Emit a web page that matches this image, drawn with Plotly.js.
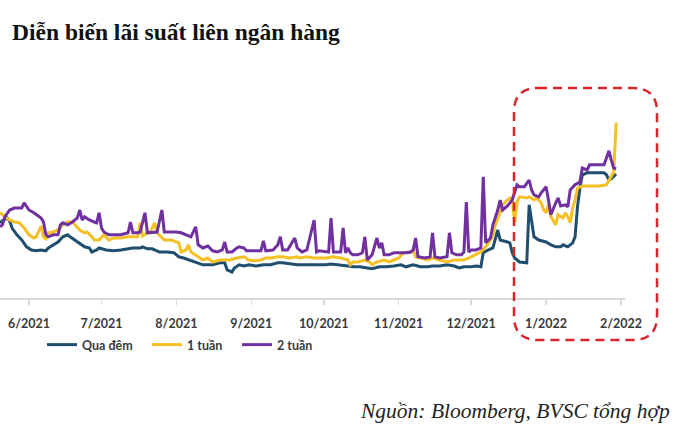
<!DOCTYPE html>
<html>
<head>
<meta charset="utf-8">
<script src="https://cdn.plot.ly/plotly-3.0.1.min.js"></script>
<style>html,body{margin:0;padding:0;background:#fff;}#chart{width:689px;height:443px;}</style>
</head>
<body>
<div id="chart"></div>
<script>
// ---- Data (% per year) ----
const seriesNames = ["Qua đêm", "1 tuần", "2 tuần"];

const overnightDates = ["2021-05-20","2021-05-21","2021-05-23","2021-05-24","2021-05-25","2021-05-27","2021-05-29","2021-05-31","2021-06-02","2021-06-04","2021-06-06","2021-06-08","2021-06-09","2021-06-11","2021-06-13","2021-06-15","2021-06-17","2021-06-18","2021-06-20","2021-06-22","2021-06-24","2021-06-26","2021-06-27","2021-06-29","2021-06-30","2021-07-03","2021-07-06","2021-07-09","2021-07-12","2021-07-14","2021-07-17","2021-07-18","2021-07-20","2021-07-22","2021-07-25","2021-07-28","2021-07-31","2021-08-02","2021-08-04","2021-08-07","2021-08-10","2021-08-12","2021-08-14","2021-08-16","2021-08-19","2021-08-21","2021-08-22","2021-08-24","2021-08-25","2021-08-27","2021-08-29","2021-08-31","2021-09-03","2021-09-06","2021-09-09","2021-09-12","2021-09-14","2021-09-17","2021-09-20","2021-09-23","2021-09-27","2021-10-02","2021-10-04","2021-10-08","2021-10-11","2021-10-13","2021-10-16","2021-10-19","2021-10-21","2021-10-24","2021-10-27","2021-10-30","2021-11-02","2021-11-04","2021-11-07","2021-11-10","2021-11-13","2021-11-15","2021-11-18","2021-11-21","2021-11-24","2021-11-26","2021-11-28","2021-12-01","2021-12-03","2021-12-05","2021-12-06","2021-12-08","2021-12-10","2021-12-12","2021-12-13","2021-12-16","2021-12-17","2021-12-18","2021-12-19","2021-12-21","2021-12-24","2021-12-25","2021-12-26","2021-12-27","2021-12-29","2022-01-01","2022-01-03","2022-01-05","2022-01-07","2022-01-08","2022-01-10","2022-01-12","2022-01-13","2022-01-14","2022-01-15","2022-01-16","2022-01-18","2022-01-21","2022-01-25","2022-01-26","2022-01-27","2022-01-28","2022-01-30"];
const overnightValues = [1.88,1.93,2.00,1.93,1.75,1.58,1.45,1.28,1.20,1.18,1.20,1.18,1.25,1.33,1.40,1.53,1.58,1.53,1.45,1.38,1.28,1.25,1.15,1.20,1.25,1.20,1.18,1.20,1.23,1.25,1.25,1.28,1.23,1.23,1.15,1.15,1.13,1.03,1.00,0.93,0.88,0.83,0.83,0.83,0.88,0.88,0.70,0.65,0.75,0.83,0.80,0.83,0.80,0.83,0.83,0.88,0.88,0.85,0.83,0.83,0.83,0.83,0.85,0.83,0.80,0.78,0.78,0.75,0.73,0.78,0.78,0.80,0.83,0.78,0.83,0.78,0.78,0.80,0.80,0.83,0.80,0.75,0.78,0.78,0.80,0.78,1.13,1.20,1.25,1.70,1.45,1.40,1.38,1.13,1.00,0.90,0.88,2.33,1.95,1.53,1.45,1.40,1.33,1.28,1.28,1.33,1.28,1.38,1.53,2.28,2.75,3.08,3.13,3.13,3.13,3.08,2.95,2.98,3.10];

const week1Dates = ["2021-05-20","2021-05-22","2021-05-24","2021-05-26","2021-05-28","2021-05-30","2021-06-01","2021-06-03","2021-06-04","2021-06-06","2021-06-07","2021-06-08","2021-06-09","2021-06-11","2021-06-13","2021-06-15","2021-06-17","2021-06-19","2021-06-21","2021-06-22","2021-06-24","2021-06-25","2021-06-27","2021-06-28","2021-06-30","2021-07-02","2021-07-04","2021-07-06","2021-07-09","2021-07-12","2021-07-16","2021-07-17","2021-07-18","2021-07-20","2021-07-21","2021-07-23","2021-07-24","2021-07-26","2021-07-27","2021-07-30","2021-08-02","2021-08-03","2021-08-05","2021-08-06","2021-08-07","2021-08-10","2021-08-12","2021-08-14","2021-08-16","2021-08-19","2021-08-23","2021-08-26","2021-08-29","2021-08-31","2021-09-02","2021-09-05","2021-09-07","2021-09-09","2021-09-12","2021-09-14","2021-09-17","2021-09-20","2021-09-21","2021-09-24","2021-09-27","2021-09-29","2021-10-02","2021-10-05","2021-10-08","2021-10-11","2021-10-12","2021-10-13","2021-10-15","2021-10-18","2021-10-20","2021-10-21","2021-10-23","2021-10-26","2021-10-28","2021-10-30","2021-11-01","2021-11-03","2021-11-06","2021-11-07","2021-11-08","2021-11-10","2021-11-13","2021-11-15","2021-11-18","2021-11-21","2021-11-24","2021-11-26","2021-11-28","2021-12-01","2021-12-03","2021-12-05","2021-12-07","2021-12-09","2021-12-10","2021-12-11","2021-12-13","2021-12-14","2021-12-16","2021-12-17","2021-12-18","2021-12-19","2021-12-20","2021-12-21","2021-12-24","2021-12-25","2021-12-27","2021-12-28","2021-12-30","2021-12-31","2022-01-01","2022-01-02","2022-01-03","2022-01-05","2022-01-06","2022-01-08","2022-01-09","2022-01-10","2022-01-11","2022-01-12","2022-01-13","2022-01-14","2022-01-16","2022-01-19","2022-01-23","2022-01-26","2022-01-27","2022-01-29","2022-01-30"];
const week1Values = [2.13,2.03,1.95,1.90,1.88,1.75,1.58,1.50,1.53,1.80,1.53,1.48,1.63,1.65,1.70,1.83,1.90,1.90,1.78,1.70,1.63,1.65,1.53,1.45,1.45,1.58,1.45,1.50,1.50,1.53,1.53,1.88,1.55,1.63,1.63,1.88,1.63,1.50,1.45,1.45,1.38,1.15,1.20,1.33,1.15,1.03,0.95,1.00,0.90,0.95,0.95,1.00,1.03,0.95,0.93,0.95,1.00,1.00,1.03,1.03,1.00,1.03,1.00,1.03,1.00,1.00,1.00,1.03,1.00,0.95,0.83,0.90,0.90,0.95,0.90,0.83,0.90,0.95,0.90,0.95,1.00,1.13,1.15,1.20,1.03,1.00,0.95,1.00,0.95,0.90,0.95,0.95,0.95,1.03,1.08,1.15,1.28,1.45,1.58,1.83,2.15,2.33,2.45,2.50,2.50,1.88,2.40,2.53,2.50,2.53,2.45,2.50,2.38,2.20,2.13,2.33,2.03,1.83,2.08,2.00,2.13,2.03,1.88,2.25,2.45,2.75,2.80,2.80,2.80,2.83,2.95,3.15,4.38];

const week2Dates = ["2021-05-20","2021-05-21","2021-05-22","2021-05-24","2021-05-26","2021-05-29","2021-05-30","2021-06-01","2021-06-03","2021-06-05","2021-06-06","2021-06-07","2021-06-08","2021-06-09","2021-06-11","2021-06-13","2021-06-14","2021-06-15","2021-06-17","2021-06-19","2021-06-21","2021-06-22","2021-06-23","2021-06-24","2021-06-26","2021-06-28","2021-06-29","2021-06-30","2021-07-01","2021-07-02","2021-07-04","2021-07-09","2021-07-12","2021-07-13","2021-07-14","2021-07-16","2021-07-17","2021-07-19","2021-07-20","2021-07-24","2021-07-26","2021-07-27","2021-07-30","2021-08-01","2021-08-03","2021-08-05","2021-08-07","2021-08-09","2021-08-10","2021-08-12","2021-08-14","2021-08-16","2021-08-18","2021-08-20","2021-08-21","2021-08-22","2021-08-24","2021-08-26","2021-08-27","2021-08-29","2021-08-30","2021-09-03","2021-09-05","2021-09-06","2021-09-07","2021-09-10","2021-09-12","2021-09-13","2021-09-14","2021-09-16","2021-09-18","2021-09-19","2021-09-20","2021-09-22","2021-09-24","2021-09-27","2021-09-28","2021-09-29","2021-10-03","2021-10-04","2021-10-05","2021-10-08","2021-10-09","2021-10-10","2021-10-11","2021-10-12","2021-10-13","2021-10-15","2021-10-17","2021-10-18","2021-10-19","2021-10-21","2021-10-23","2021-10-24","2021-10-25","2021-10-26","2021-10-28","2021-10-30","2021-11-02","2021-11-04","2021-11-06","2021-11-07","2021-11-08","2021-11-09","2021-11-12","2021-11-14","2021-11-15","2021-11-16","2021-11-18","2021-11-21","2021-11-22","2021-11-23","2021-11-25","2021-11-27","2021-11-28","2021-11-29","2021-11-30","2021-12-01","2021-12-03","2021-12-05","2021-12-06","2021-12-07","2021-12-09","2021-12-10","2021-12-12","2021-12-13","2021-12-14","2021-12-16","2021-12-18","2021-12-20","2021-12-21","2021-12-23","2021-12-25","2021-12-26","2021-12-27","2021-12-29","2021-12-30","2022-01-01","2022-01-02","2022-01-03","2022-01-05","2022-01-06","2022-01-07","2022-01-09","2022-01-10","2022-01-11","2022-01-13","2022-01-15","2022-01-16","2022-01-18","2022-01-19","2022-01-25","2022-01-26","2022-01-27","2022-01-28","2022-01-29","2022-01-30"];
const week2Values = [1.78,1.83,2.03,2.20,2.25,2.25,2.38,2.20,2.13,2.03,2.00,1.90,1.58,1.53,1.58,1.58,1.83,1.88,1.83,1.90,2.00,2.20,1.95,2.03,1.95,1.90,1.88,2.13,1.75,1.65,1.58,1.58,1.63,1.90,1.63,1.63,1.65,2.13,1.63,1.65,2.20,1.65,1.65,1.65,1.63,1.58,1.53,1.78,1.33,1.25,1.30,1.18,1.15,1.20,1.40,1.15,1.15,1.25,1.28,1.25,1.18,1.18,1.18,1.43,1.18,1.20,1.33,1.53,1.20,1.20,1.38,1.50,1.25,1.15,1.20,1.95,1.15,1.18,1.15,2.00,1.15,1.15,1.75,1.13,1.25,1.13,1.08,1.08,1.13,1.53,0.95,1.08,1.50,1.25,1.38,1.08,1.08,1.13,1.13,1.13,1.15,1.20,1.50,1.03,1.00,1.03,1.63,1.03,1.00,1.03,1.63,1.13,1.08,1.08,1.15,2.40,1.15,1.20,1.20,1.25,3.03,1.38,1.50,1.83,2.20,2.45,2.20,2.30,2.45,2.83,2.78,2.78,2.95,2.70,2.58,2.53,2.63,2.78,2.45,2.08,2.38,2.50,2.30,2.33,2.28,2.70,2.83,2.90,3.25,3.20,3.33,3.33,3.50,3.68,3.45,3.25,3.23];

const seriesColors = ["#1f4e6e", "#f5c023", "#7030a0"];
const tickStart = "2021-06-01";
const titleText = "Diễn biến lãi suất liên ngân hàng";
const sourceText = "Nguồn: Bloomberg, BVSC tổng hợp";

// ---- Layout geometry (pixels) ----
const W = 689, H = 443;
const plotL = 0, plotR = 625, plotT = 98, plotB = 298;
const pw = plotR - plotL, ph = plotB - plotT;
const px2x = p => (p - plotL) / pw;
const py2y = p => (plotB - p) / ph;

// rounded dashed highlight box
const bx0 = 514, bx1 = 657, by0 = 88, by1 = 340, rad = 24;
const L = px2x(bx0), R = px2x(bx1), T = py2y(by0), B = py2y(by1);
const rx = rad / pw, ry = rad / ph;
const boxPath = `M${L+rx},${T} L${R-rx},${T} Q${R},${T} ${R},${T-ry} L${R},${B+ry} Q${R},${B} ${R-rx},${B} L${L+rx},${B} Q${L},${B} ${L},${B+ry} L${L},${T-ry} Q${L},${T} ${L+rx},${T} Z`;

const axisFont = { family: "Lato, 'Open Sans', sans-serif", size: 12.5, color: "#3a3a3a", weight: 700 };

// one legend box per series, placed where the reference shows each key
const legendIds = ["legend", "legend2", "legend3"];
const legendLineX = [50, 155, 245];

const xs = [overnightDates, week1Dates, week2Dates];
const ys = [overnightValues, week1Values, week2Values];
const traces = seriesNames.map((n, i) => ({
  type: "scatter", mode: "lines", name: n,
  x: xs[i], y: ys[i], legend: legendIds[i],
  line: { color: seriesColors[i], width: 3 }
}));

const layout = {
  width: W, height: H,
  margin: { l: plotL, r: W - plotR, t: plotT, b: H - plotB, pad: 0 },
  paper_bgcolor: "#fff", plot_bgcolor: "#fff",
  showlegend: true,
  title: {
    text: "<b>" + titleText + "</b>",
    x: 12 / W, xanchor: "left", xref: "container",
    y: 1 - 32 / H, yanchor: "middle", yref: "container",
    font: { family: "'Liberation Serif', 'Times New Roman', serif", size: 23.5, color: "#111" }
  },
  xaxis: {
    type: "date",
    range: ["2021-05-20", "2022-02-02 16:00"],
    tick0: tickStart, dtick: "M1", tickformat: "%-m/%Y",
    showgrid: false, zeroline: false,
    showline: true, linecolor: "#d9d9d9", linewidth: 1.5,
    ticks: "outside", ticklen: 5, tickcolor: "#d9d9d9", tickwidth: 1.5,
    ticklabelstandoff: 8,
    tickfont: axisFont, fixedrange: true
  },
  yaxis: {
    range: [0, 5], visible: false, showgrid: false, zeroline: false, fixedrange: true
  },
  shapes: [{
    type: "path", xref: "paper", yref: "paper", path: boxPath,
    line: { color: "#d9262c", width: 2.5, dash: "9px,6px" }, layer: "above"
  }],
  annotations: [{
    text: sourceText, xref: "paper", yref: "paper",
    x: px2x(672), xanchor: "right", y: py2y(411), yanchor: "middle",
    showarrow: false,
    font: { family: "'Liberation Serif', 'Times New Roman', serif", size: 21.5, color: "#222", style: "italic" }
  }]
};
legendIds.forEach((id, i) => {
  layout[id] = {
    orientation: "h", x: px2x(legendLineX[i] - 8), xanchor: "left",
    y: py2y(345), yanchor: "middle",
    font: axisFont, itemwidth: 30, bgcolor: "rgba(0,0,0,0)"
  };
});

Plotly.newPlot("chart", traces, layout, { displayModeBar: false, staticPlot: true });
</script>
</body>
</html>
